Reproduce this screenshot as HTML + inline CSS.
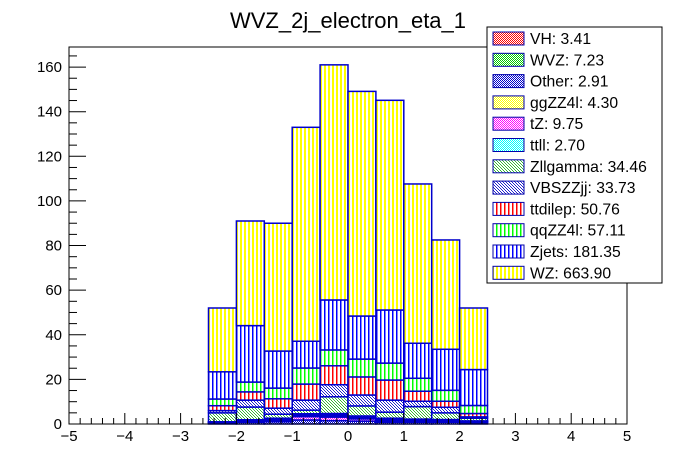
<!DOCTYPE html>
<html><head><meta charset="utf-8"><style>
body{margin:0;background:#fff;}
svg{display:block;font-family:"Liberation Sans",Arial,sans-serif;}
</style></head><body>
<svg id="c" width="696" height="472" xmlns="http://www.w3.org/2000/svg">
<defs>
<pattern id="vy" width="4" height="4" patternUnits="userSpaceOnUse"><rect width="4" height="4" fill="#fff"/><rect width="2" height="4" fill="#ffff00"/></pattern>
<pattern id="vb" width="4" height="4" patternUnits="userSpaceOnUse"><rect width="4" height="4" fill="#fff"/><rect width="1.5" height="4" fill="#0000ff"/></pattern>
<pattern id="vg" width="4" height="4" patternUnits="userSpaceOnUse"><rect width="4" height="4" fill="#fff"/><rect width="1.5" height="4" fill="#00ff00"/></pattern>
<pattern id="vr" width="4" height="4" patternUnits="userSpaceOnUse"><rect width="4" height="4" fill="#fff"/><rect width="1.5" height="4" fill="#ff0000"/></pattern>
<pattern id="cr" width="2" height="2" patternUnits="userSpaceOnUse"><rect width="2" height="2" fill="#fff"/><rect width="1" height="1" fill="#ff0000"/><rect x="1" y="1" width="1" height="1" fill="#ff0000"/></pattern>
<pattern id="cg" width="2" height="2" patternUnits="userSpaceOnUse"><rect width="2" height="2" fill="#fff"/><rect width="1" height="1" fill="#00cc00"/><rect x="1" y="1" width="1" height="1" fill="#00cc00"/></pattern>
<pattern id="cb" width="2" height="2" patternUnits="userSpaceOnUse"><rect width="2" height="2" fill="#fff"/><rect width="1" height="1" fill="#0000cc"/><rect x="1" y="1" width="1" height="1" fill="#0000cc"/></pattern>
<pattern id="cy" width="2" height="2" patternUnits="userSpaceOnUse"><rect width="2" height="2" fill="#fff"/><rect width="1" height="1" fill="#ffff00"/><rect x="1" y="1" width="1" height="1" fill="#ffff00"/></pattern>
<pattern id="cm" width="2" height="2" patternUnits="userSpaceOnUse"><rect width="2" height="2" fill="#fff"/><rect width="1" height="1" fill="#ff00ff"/><rect x="1" y="1" width="1" height="1" fill="#ff00ff"/></pattern>
<pattern id="cc" width="2" height="2" patternUnits="userSpaceOnUse"><rect width="2" height="2" fill="#fff"/><rect width="1" height="1" fill="#00ffff"/><rect x="1" y="1" width="1" height="1" fill="#00ffff"/></pattern>
<pattern id="cz" width="3" height="3" patternUnits="userSpaceOnUse"><rect width="3" height="3" fill="#fff"/><rect width="1" height="1" fill="#33bb33"/><rect x="1" y="1" width="1" height="1" fill="#33bb33"/><rect x="2" y="2" width="1" height="1" fill="#33bb33"/></pattern>
<pattern id="cv" width="3" height="3" patternUnits="userSpaceOnUse"><rect width="3" height="3" fill="#fff"/><rect width="1" height="1" fill="#2222cc"/><rect x="1" y="1" width="1" height="1" fill="#2222cc"/><rect x="2" y="2" width="1" height="1" fill="#2222cc"/></pattern>
</defs>
<text x="348" y="28" text-anchor="middle" font-size="22">WVZ_2j_electron_eta_1</text>
<g id="bars"></g>
<g id="axes"></g>
<g id="legend"></g>
</svg>
<script>
const binEdges=[-2.5,-2,-1.5,-1,-0.5,0,0.5,1,1.5,2,2.5];
const seriesNames=["Other","tZ","VH","WVZ","ggZZ4l","ttll","Zllgamma","VBSZZjj","ttdilep","qqZZ4l","Zjets","WZ"];
const Other=[0.4,0.8,1.0,1.8,1.5,1.3,0.8,0.8,0.8,0.5];
const tZ=[0.2,0.6,0.6,1.5,1.6,1.0,0.6,0.4,0.4,0.3];
const VH=[0.1,0.2,0.4,0.3,0.5,0.4,0.3,0.3,0.3,0.2];
const WVZ=[0.1,0.1,0.3,0.5,0.6,0.5,0.5,0.4,0.3,0.2];
const ggZZ4l=[0.1,0.1,0.2,0.3,0.3,0.2,0.2,0.2,0.1,0.1];
const ttll=[0.1,0.1,0.1,0.2,0.2,0.2,0.2,0.1,0.1,0.1];
const Zllgamma=[4.0,5.7,1.8,1.6,7.5,4.5,2.7,5.6,3.0,1.2];
const VBSZZjj=[1.0,3.1,2.7,4.5,5.4,4.9,5.4,2.4,2.5,0.6];
const ttdilep=[2.2,3.7,4.2,7.2,8.5,8.1,9.0,4.5,2.7,1.5];
const qqZZ4l=[3.0,4.4,4.8,7.2,7.1,8.0,7.6,5.8,4.9,3.6];
const Zjets=[12.2,25.3,16.6,12.0,22.4,19.3,23.8,15.7,18.4,16.1];
const WZ=[28.6,46.9,57.3,95.9,105.4,100.7,94.0,71.4,49.0,27.6];
const seriesVals=[Other,tZ,VH,WVZ,ggZZ4l,ttll,Zllgamma,VBSZZjj,ttdilep,qqZZ4l,Zjets,WZ];
const seriesFill=["cb","cm","cr","cg","cy","cc","cz","cv","vr","vg","vb","vy"];
const xTicks=[-5,-4,-3,-2,-1,0,1,2,3,4,5];
const yTicks=[0,20,40,60,80,100,120,140,160];
const legendLabels=["VH: 3.41","WVZ: 7.23","Other: 2.91","ggZZ4l: 4.30","tZ: 9.75","ttll: 2.70","Zllgamma: 34.46","VBSZZjj: 33.73","ttdilep: 50.76","qqZZ4l: 57.11","Zjets: 181.35","WZ: 663.90"];
const legendFill=["cr","cg","cb","cy","cm","cc","cz","cv","vr","vg","vb","vy"];

const NS="http://www.w3.org/2000/svg";
const X0=69,X1=627,Y0=424,Y1=47,YMAX=169;
const xs=v=>X0+(v+5)/10*(X1-X0);
const ys=v=>Y0-v/YMAX*(Y0-Y1);
function mk(t,a,p){const e=document.createElementNS(NS,t);for(const k in a)e.setAttribute(k,a[k]);p.appendChild(e);return e;}
const bars=document.getElementById('bars');
const cum=new Array(binEdges.length-1).fill(0);
seriesVals.forEach((arr,si)=>{
  arr.forEach((v,bi)=>{
    const y0=ys(cum[bi]),y1=ys(cum[bi]+v);
    const r=mk('rect',{x:xs(binEdges[bi]),y:y1,width:xs(binEdges[bi+1])-xs(binEdges[bi]),height:Math.max(0,y0-y1),fill:'url(#'+seriesFill[si]+')',stroke:'#0000cc','stroke-width':1.5},bars);
    
    
    cum[bi]+=v;
  });
});
const ax=document.getElementById('axes');
const fr=mk('rect',{x:X0,y:Y1,width:X1-X0,height:Y0-Y1,fill:'none',stroke:'#000','stroke-width':1},ax);


for(let i=0;i<=50;i++){const v=-5+i*0.2;const x=xs(v);const major=i%5===0;
  mk('line',{x1:x,x2:x,y1:Y0,y2:Y0-(major?11:6),stroke:'#000'},ax);}
xTicks.forEach(v=>{const t=mk('text',{x:xs(v),y:441,'text-anchor':'middle','font-size':15},ax);t.textContent=(v<0?'\u2212':'')+Math.abs(v);
  
  });
for(let v=0;v<=165;v+=5){const y=ys(v);const major=v%20===0;
  mk('line',{x1:X0,x2:X0+(major?17:8),y1:y,y2:y,stroke:'#000'},ax);}
yTicks.forEach(v=>{const t=mk('text',{x:62,y:ys(v)+5,'text-anchor':'end','font-size':15},ax);t.textContent=v;
  
  });
const lg=document.getElementById('legend');


mk('rect',{x:487,y:27,width:175,height:256,fill:'#fff',stroke:'#000','stroke-width':1},lg);
legendLabels.forEach((s,i)=>{const cy=38+i*21.3;
  const g=mk('g',{},lg);
  
  
  mk('rect',{x:493,y:cy-6,width:31,height:13,fill:'url(#'+legendFill[i]+')',stroke:'#0000aa','stroke-width':1},g);
  const t=mk('text',{x:530,y:cy+6,'font-size':15.7},g);t.textContent=s;});
</script>
</body></html>
